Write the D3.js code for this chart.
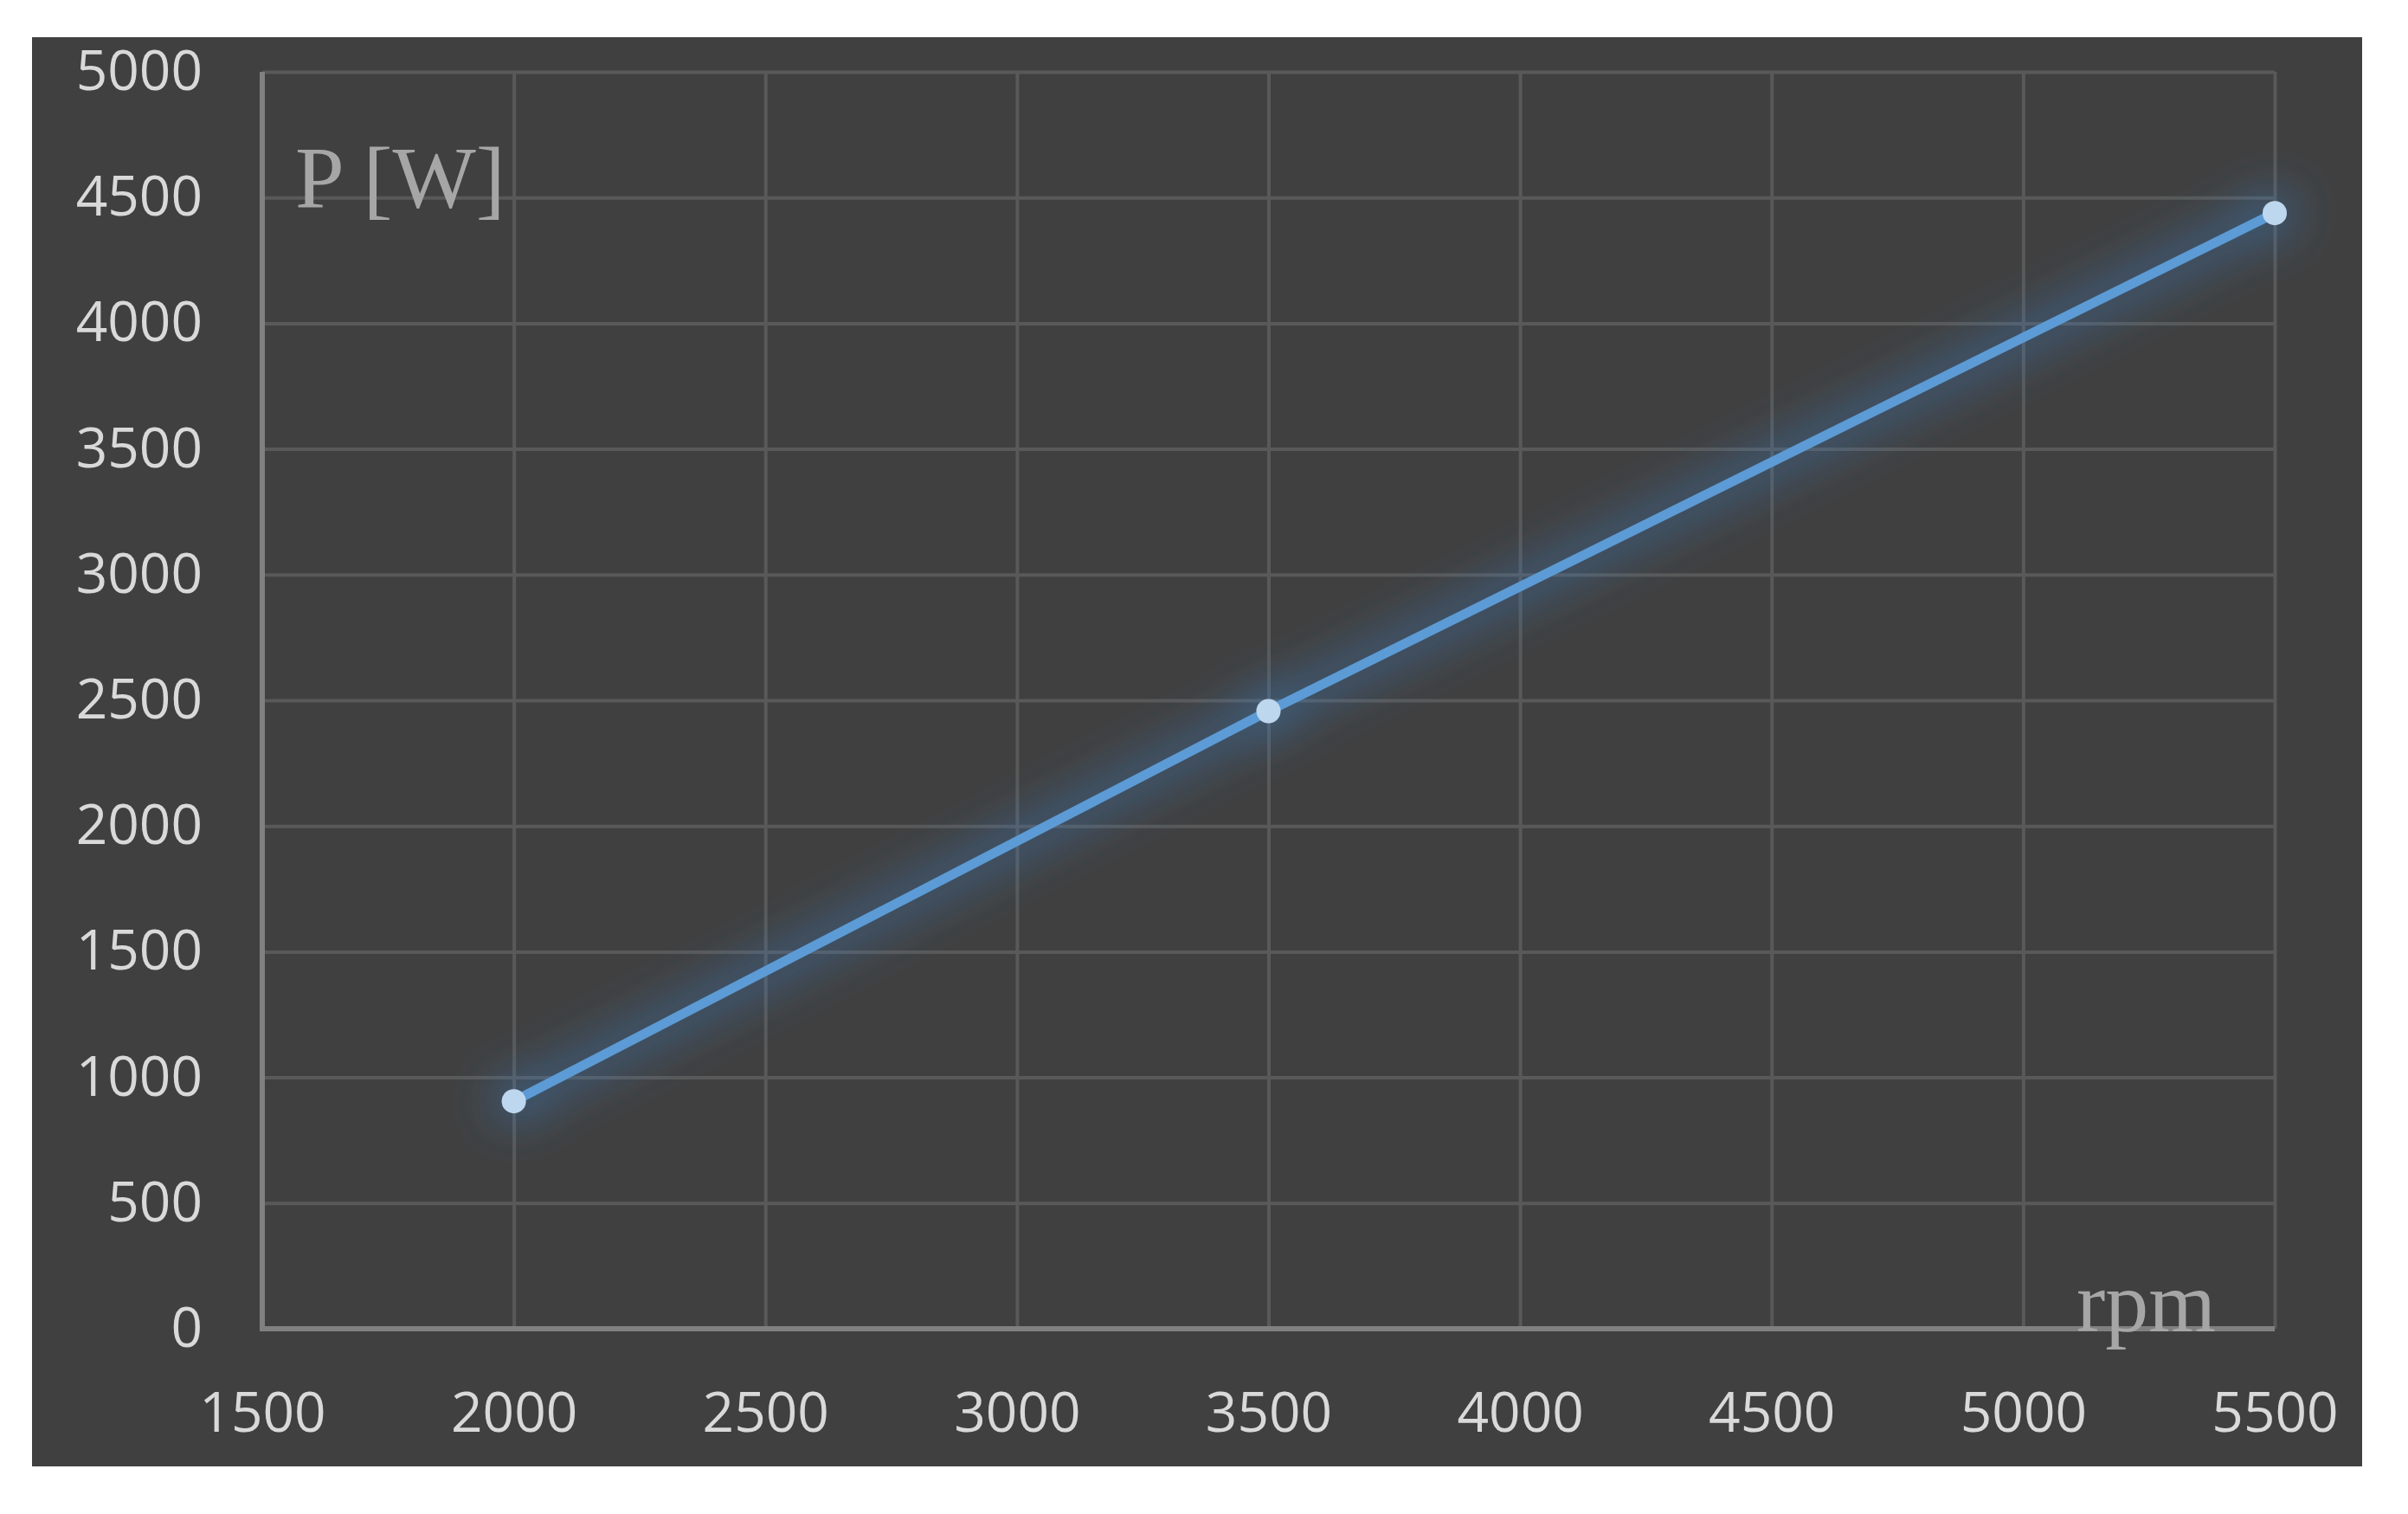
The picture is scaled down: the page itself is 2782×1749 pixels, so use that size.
<!DOCTYPE html>
<html>
<head>
<meta charset="utf-8">
<script src="https://cdn.jsdelivr.net/npm/d3@7"></script>
<style>
  body { margin: 0; background: #ffffff; }
  .tick text { font-family: "Open Sans", sans-serif; font-size: 64px; fill: #d9d9d9; }
  .grid line { stroke: #595959; stroke-width: 4; }
</style>
</head>
<body>
<svg id="chart"></svg>
<script>
var rpm = [2000, 3500, 5500];
var power = [905, 2457, 4438];
var xTicks = [1500, 2000, 2500, 3000, 3500, 4000, 4500, 5000, 5500];
var yTicks = [0, 500, 1000, 1500, 2000, 2500, 3000, 3500, 4000, 4500, 5000];

var data = rpm.map(function(d, i) { return {x: d, y: power[i]}; });

var W = 2782, H = 1749;
var margin = {top: 83, right: 154, bottom: 214, left: 303},
    width = W - margin.left - margin.right,
    height = H - margin.top - margin.bottom;

var svgRoot = d3.select("#chart")
    .attr("width", W)
    .attr("height", H);

// dark panel
svgRoot.append("rect")
    .attr("x", 37)
    .attr("y", 43)
    .attr("width", 2692)
    .attr("height", 1651)
    .attr("fill", "#404040");

var defs = svgRoot.append("defs");
var glow = defs.append("filter")
    .attr("id", "glow")
    .attr("x", "-20%").attr("y", "-30%")
    .attr("width", "140%").attr("height", "160%");
glow.append("feGaussianBlur")
    .attr("in", "SourceAlpha")
    .attr("stdDeviation", 30)
    .attr("result", "blur");
glow.append("feComponentTransfer")
    .attr("in", "blur")
    .attr("result", "blurBoost")
    .append("feFuncA")
    .attr("type", "linear")
    .attr("slope", 2.4);
glow.append("feFlood")
    .attr("flood-color", "#3d80c4")
    .attr("flood-opacity", 0.7);
glow.append("feComposite")
    .attr("in2", "blurBoost")
    .attr("operator", "in")
    .attr("result", "halo");
var merge = glow.append("feMerge");
merge.append("feMergeNode").attr("in", "halo");
merge.append("feMergeNode").attr("in", "SourceGraphic");

var svg = svgRoot.append("g")
    .attr("transform", "translate(" + margin.left + "," + margin.top + ")");

var xScale = d3.scaleLinear()
    .domain([1500, 5500])
    .range([0, width]);

var yScale = d3.scaleLinear()
    .domain([0, 5000])
    .range([height, 0]);

var xAxis = d3.axisBottom(xScale)
    .tickValues(xTicks)
    .tickSize(-height)
    .tickPadding(74)
    .tickFormat(d3.format("d"));

var yAxis = d3.axisLeft(yScale)
    .tickValues(yTicks)
    .tickSize(-width)
    .tickPadding(69)
    .tickFormat(d3.format("d"));

svg.append("g")
    .attr("class", "x grid")
    .attr("transform", "translate(0," + height + ")")
    .call(xAxis)
    .call(function(g) { g.select(".domain").remove(); });

svg.append("g")
    .attr("class", "y grid")
    .call(yAxis)
    .call(function(g) { g.select(".domain").remove(); });

// axis lines
svg.append("line")
    .attr("x1", 0).attr("x2", 0)
    .attr("y1", 0).attr("y2", height + 3)
    .attr("stroke", "#808080")
    .attr("stroke-width", 6);

svg.append("line")
    .attr("x1", -3).attr("x2", width)
    .attr("y1", height).attr("y2", height)
    .attr("stroke", "#808080")
    .attr("stroke-width", 6);

// series
var line = d3.line()
    .x(function(d) { return xScale(d.x); })
    .y(function(d) { return yScale(d.y); });

var series = svg.append("g")
    .attr("filter", "url(#glow)");

series.append("path")
    .datum(data)
    .attr("d", line)
    .attr("fill", "none")
    .attr("stroke", "#5b9bd5")
    .attr("stroke-width", 11)
    .attr("stroke-linecap", "round");

series.selectAll(".dot")
    .data(data)
    .enter().append("circle")
    .attr("class", "dot")
    .attr("r", 14)
    .attr("cx", function(d) { return xScale(d.x); })
    .attr("cy", function(d) { return yScale(d.y); })
    .style("fill", "#bdd7ee");

// axis titles
svg.append("text")
    .attr("x", 38)
    .attr("y", 157)
    .style("font-family", "'Liberation Serif', serif")
    .style("font-size", "102px")
    .style("fill", "#a6a6a6")
    .text("P [W]");

svg.append("text")
    .attr("x", 2096)
    .attr("y", height + 3)
    .style("font-family", "'Liberation Serif', serif")
    .style("font-size", "100px")
    .style("fill", "#a6a6a6")
    .text("rpm");
</script>
</body>
</html>
